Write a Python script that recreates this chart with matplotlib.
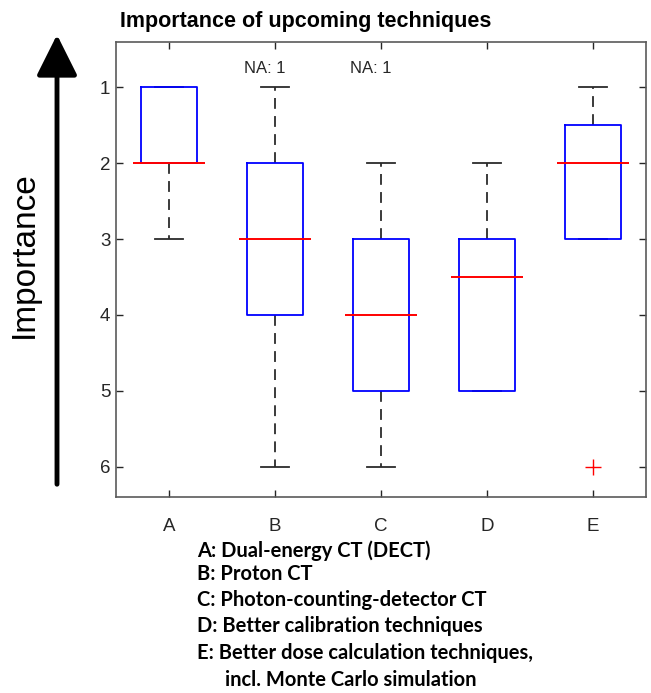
import numpy as np
import matplotlib
matplotlib.use("Agg")
import matplotlib.pyplot as plt
from matplotlib.patches import FancyArrowPatch

# --- data (rank 1 = most important) ---
labels = ['A', 'B', 'C', 'D', 'E']
q1 = [1, 2, 3, 3, 1.5]
medians = [2, 3, 4, 3.5, 2]
q3 = [2, 4, 5, 5, 3]
whisk_lo = [1, 1, 2, 2, 1]
whisk_hi = [3, 6, 6, 5, 3]
outliers = [[], [], [], [], [6]]
na_counts = [0, 1, 1, 0, 0]

legend_lines = [
    'A: Dual-energy CT (DECT)',
    'B: Proton CT',
    'C: Photon-counting-detector CT',
    'D: Better calibration techniques',
    'E: Better dose calculation techniques,',
    'incl. Monte Carlo simulation',
]

plt.rcParams['font.family'] = ['Liberation Sans', 'DejaVu Sans']

fig = plt.figure(figsize=(6.51, 6.93), dpi=100)
W, H = 651, 693
ax = fig.add_axes([116 / W, 1 - 497 / H, 530 / W, 455 / H])

pos = np.arange(1, len(labels) + 1)
stats = []
for i in range(len(labels)):
    stats.append(dict(med=medians[i], q1=q1[i], q3=q3[i],
                      whislo=whisk_lo[i], whishi=whisk_hi[i],
                      fliers=outliers[i], label=labels[i]))

ax.bxp(stats, positions=pos, widths=0.53, showfliers=True,
       boxprops=dict(color='#0000FF', linewidth=1.3, zorder=3),
       whiskerprops=dict(color='#2b2b2b', linewidth=1.3, linestyle=(0, (6, 4)), zorder=2),
       capprops=dict(color='#2b2b2b', linewidth=1.3, zorder=1),
       capwidths=0.26,
       medianprops=dict(visible=False),
       flierprops=dict(marker='+', markeredgecolor='#FF0000', markersize=11,
                       markeredgewidth=1.0, linestyle='none'))

# MATLAB-style median lines stick out a bit past the box
ax.hlines(medians, pos - 0.34, pos + 0.34, colors='#FF0000', linewidth=1.4, zorder=4)

for p, n in zip(pos, na_counts):
    if n:
        ax.text(p - 0.1, 0.75, f'NA: {n}', ha='center', va='center', fontsize=12, color='#262626')

ax.set_xlim(0.5, 5.5)
ax.set_ylim(6.4, 0.4)
ax.set_yticks([1, 2, 3, 4, 5, 6])
ax.set_xticks(pos)
ax.set_xticklabels(labels)
ax.tick_params(direction='in', length=5, width=1, colors='#262626', labelsize=13.5,
               top=True, right=True, labelcolor='#262626')
ax.tick_params(axis='y', pad=4)
ax.tick_params(axis='x', pad=15)
for s in ax.spines.values():
    s.set_color('#5a5a5a')
    s.set_linewidth(1.2)

fig.text(306 / W, 1 - 21 / H, 'Importance of upcoming techniques',
         ha='center', va='center', fontsize=15.5, fontweight='bold')

fig.text(24 / W, 1 - 255 / H, 'Importance', rotation=90,
         ha='center', va='center', fontsize=24)

arrow = FancyArrowPatch((57 / W, 1 - 487 / H), (57 / W, 1 - 32 / H),
                        transform=fig.transFigure,
                        arrowstyle='-|>,head_width=0.45,head_length=0.9',
                        mutation_scale=28, linewidth=3.5, color='black')
fig.add_artist(arrow)

line_y = [551, 574, 600, 626, 653, 680]
line_x = [197, 197, 197, 197, 197, 225]
for txt, x, y in zip(legend_lines, line_x, line_y):
    fig.text(x / W, 1 - y / H, txt, ha='left', va='center',
             fontsize=14.5, fontweight='bold', family=['Lato', 'DejaVu Sans'])

fig.savefig('out.png', dpi=100)
